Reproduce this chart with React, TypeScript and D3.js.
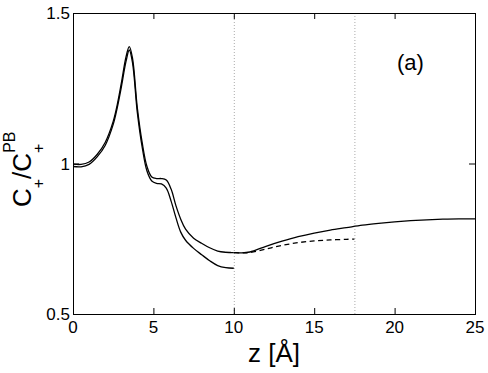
import { useEffect, useRef } from 'react';
import * as d3 from 'd3';

// z positions (Å) and C+/C+PB values
const zInner = [0, 0.5, 1.0, 1.5, 2.0, 2.5, 2.75, 3.0, 3.3, 3.5, 3.7, 4.0, 4.3, 4.6, 4.9, 5.2, 5.5, 5.8, 6.1, 6.4, 6.7, 7.0, 7.5, 8.0, 8.5, 9.0, 9.5, 10];
const upperInner = [0.998, 0.997, 1.005, 1.03, 1.07, 1.14, 1.195, 1.265, 1.355, 1.388, 1.35, 1.185, 1.07, 0.99, 0.955, 0.95, 0.95, 0.945, 0.915, 0.86, 0.815, 0.782, 0.752, 0.735, 0.72, 0.709, 0.705, 0.704];
const lowerInner = [0.99, 0.989, 0.997, 1.022, 1.06, 1.13, 1.185, 1.252, 1.34, 1.377, 1.335, 1.17, 1.055, 0.975, 0.942, 0.934, 0.932, 0.918, 0.875, 0.82, 0.772, 0.745, 0.718, 0.697, 0.677, 0.661, 0.654, 0.652];

const zOuter = [10, 10.5, 11, 12, 13, 14, 15, 16, 17, 18, 19, 20, 21, 22, 23, 24, 25];
const upperOuter = [0.704, 0.703, 0.706, 0.725, 0.742, 0.757, 0.769, 0.779, 0.787, 0.795, 0.801, 0.806, 0.81, 0.813, 0.815, 0.816, 0.816];

const zDashed = [9.5, 10, 10.5, 11, 12, 13, 14, 15, 16, 17, 17.5];
const dashedValues = [0.705, 0.704, 0.703, 0.704, 0.716, 0.728, 0.737, 0.743, 0.746, 0.748, 0.749];

const xTicks = [0, 5, 10, 15, 20, 25];
const yTicks = [0.5, 1, 1.5];
const markers = [10, 17.5];

const App = () => {
  const svgRef = useRef<SVGSVGElement>(null);

  useEffect(() => {
    const svg = d3.select(svgRef.current);
    svg.selectAll('*').remove();

    const margin = { top: 13, right: 13, bottom: 59, left: 73 };
    const width = 488;
    const height = 373;
    const x0 = margin.left;
    const x1 = width - margin.right;
    const y0 = height - margin.bottom;
    const y1 = margin.top;

    const x = d3.scaleLinear().domain([0, 25]).range([x0, x1]);
    const y = d3.scaleLinear().domain([0.5, 1.5]).range([y0, y1]);

    const font = 'Liberation Sans, Arial, Helvetica, sans-serif';

    // dotted markers
    svg
      .selectAll('.marker')
      .data(markers)
      .enter()
      .append('line')
      .attr('x1', (d) => x(d) + 0.5)
      .attr('x2', (d) => x(d) + 0.5)
      .attr('y1', y1)
      .attr('y2', y0)
      .attr('stroke', '#aaa')
      .attr('stroke-width', 1)
      .attr('stroke-dasharray', '1,2');

    const line = d3
      .line<[number, number]>()
      .x((d) => x(d[0]))
      .y((d) => y(d[1]))
      .curve(d3.curveCatmullRom.alpha(0.5));

    const series = [
      { z: zInner, v: upperInner, dash: null },
      { z: zInner, v: lowerInner, dash: null },
      { z: zOuter, v: upperOuter, dash: null },
      { z: zDashed, v: dashedValues, dash: '5,3.5' },
    ];

    series.forEach((s) => {
      const pts = s.z.map((z, i) => [z, s.v[i]] as [number, number]);
      svg
        .append('path')
        .attr('d', line(pts))
        .attr('fill', 'none')
        .attr('stroke', '#000')
        .attr('stroke-width', 1.3)
        .attr('stroke-dasharray', s.dash);
    });

    // box
    svg
      .append('rect')
      .attr('x', x0 + 0.5)
      .attr('y', y1 + 0.5)
      .attr('width', x1 - x0)
      .attr('height', y0 - y1)
      .attr('fill', 'none')
      .attr('stroke', '#000')
      .attr('stroke-width', 1);

    const tick = 6;
    const tk = svg.append('g').attr('stroke', '#000').attr('stroke-width', 1);
    xTicks.slice(1, -1).forEach((t) => {
      tk.append('line').attr('x1', x(t) + 0.5).attr('x2', x(t) + 0.5).attr('y1', y0).attr('y2', y0 - tick);
      tk.append('line').attr('x1', x(t) + 0.5).attr('x2', x(t) + 0.5).attr('y1', y1).attr('y2', y1 + tick);
    });
    yTicks.slice(1, -1).forEach((t) => {
      tk.append('line').attr('x1', x0).attr('x2', x0 + tick).attr('y1', y(t) + 0.5).attr('y2', y(t) + 0.5);
      tk.append('line').attr('x1', x1).attr('x2', x1 - tick).attr('y1', y(t) + 0.5).attr('y2', y(t) + 0.5);
    });

    // tick labels
    svg
      .selectAll('.xl')
      .data(xTicks)
      .enter()
      .append('text')
      .attr('x', (d) => x(d))
      .attr('y', y0 + 19)
      .attr('text-anchor', 'middle')
      .attr('font-family', font)
      .attr('font-size', 17)
      .text((d) => d);

    svg
      .selectAll('.yl')
      .data(yTicks)
      .enter()
      .append('text')
      .attr('x', x0 - 3)
      .attr('y', (d) => y(d) + 6)
      .attr('text-anchor', 'end')
      .attr('font-family', font)
      .attr('font-size', 17)
      .text((d) => d);

    // axis labels
    svg
      .append('text')
      .attr('x', (x0 + x1) / 2)
      .attr('y', 362)
      .attr('text-anchor', 'middle')
      .attr('font-family', font)
      .attr('font-size', 26)
      .text('z [Å]');

    const yl = svg
      .append('text')
      .attr('transform', 'translate(31,207) rotate(-90)')
      .attr('font-family', font)
      .attr('font-size', 26);
    yl.append('tspan').text('C');
    yl.append('tspan').attr('font-size', 16).attr('dy', 13).text('+');
    yl.append('tspan').attr('dy', -13).text('/C');
    yl.append('tspan').attr('font-size', 16).attr('dy', 13).text('+');
    yl.append('tspan').attr('font-size', 16).attr('dx', -9.3).attr('dy', -29).text('PB');

    svg
      .append('text')
      .attr('x', 397)
      .attr('y', 70)
      .attr('font-family', font)
      .attr('font-size', 22)
      .text('(a)');
  }, []);

  return (
    <svg
      ref={svgRef}
      width={488}
      height={373}
      style={{ position: 'absolute', left: 0, top: 0, background: '#fff' }}
    ></svg>
  );
};

export default App;
